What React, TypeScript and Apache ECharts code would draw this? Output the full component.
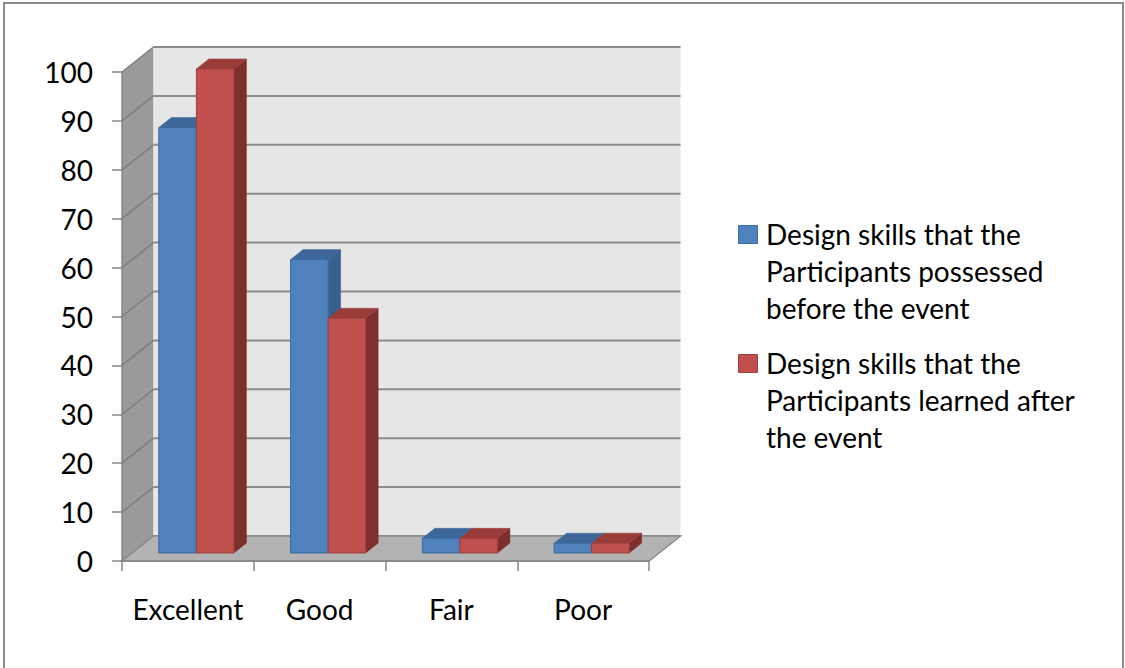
import React, { useEffect, useRef } from "react";
import * as echarts from "echarts";

const categories = ["Excellent", "Good", "Fair", "Poor"];
const beforeValues = [87, 60, 3, 2];
const afterValues = [99, 48, 3, 2];
const seriesNames = [
  "Design skills that the Participants possessed before the event",
  "Design skills that the Participants learned after the event",
];
const legendLines = [
  ["Design skills that the", "Participants possessed", "before the event"],
  ["Design skills that the", "Participants learned after", "the event"],
];
const yTicks = [0, 10, 20, 30, 40, 50, 60, 70, 80, 90, 100];

const FONT = "Lato, 'Noto Sans', sans-serif";
const palettes = [
  { front: "#4f81bd", top: "#3d6699", side: "#38608e", stroke: "#3a6a9f" },
  { front: "#c0504d", top: "#9a3d3a", side: "#7e2f2d", stroke: "#9e3f3c" },
];

// oblique projection offsets
const WALL_DX = 31.5;
const WALL_DY = -25;
const FRONT_DX = 8.5;
const FRONT_DY = -8;
const BAR_DX = 12.5;
const BAR_DY = -10;
const BAR_FRAC = 0.285;

export default function App() {
  const ref = useRef<HTMLDivElement>(null);
  useEffect(() => {
    if (!ref.current) return;
    const chart = echarts.init(ref.current, null, { renderer: "svg" });

    const wallsRender = (params: any, api: any) => {
      const cs = params.coordSys;
      const x = cs.x, y = cs.y, w = cs.width, h = cs.height;
      const children: any[] = [];
      children.push({
        type: "polygon",
        shape: { points: [[x, y], [x + WALL_DX, y + WALL_DY], [x + WALL_DX, y + h + WALL_DY], [x, y + h]] },
        style: { fill: "#9a9a9a" },
      });
      children.push({
        type: "rect",
        shape: { x: x + WALL_DX, y: y + WALL_DY, width: w, height: h },
        style: { fill: "#e6e6e6" },
      });
      yTicks.forEach((v) => {
        const py = api.coord([0, v])[1];
        children.push({
          type: "line",
          shape: { x1: x + WALL_DX, y1: py + WALL_DY, x2: x + w + WALL_DX, y2: py + WALL_DY },
          style: { stroke: "#8c8c8c", lineWidth: 2 },
        });
        children.push({
          type: "line",
          shape: { x1: x, y1: py, x2: x + WALL_DX, y2: py + WALL_DY },
          style: { stroke: "#7f7f7f", lineWidth: 1.5 },
        });
      });
      children.push({
        type: "polygon",
        shape: { points: [[x, y + h], [x + w, y + h], [x + w + WALL_DX, y + h + WALL_DY], [x + WALL_DX, y + h + WALL_DY]] },
        style: { fill: "#b3b3b3", stroke: "#8c8c8c", lineWidth: 1.5 },
      });
      return { type: "group", children };
    };

    const barRender = (sIdx: number) => (params: any, api: any) => {
      const cat = api.value(0);
      const v = api.value(1);
      const base = api.coord([cat, 0]);
      const topP = api.coord([cat, v]);
      const band = api.size([1, 0])[0];
      const bw = band * BAR_FRAC;
      const x0 = base[0] - bw + sIdx * bw + FRONT_DX;
      const x1 = x0 + bw;
      const ty = topP[1] + FRONT_DY;
      const by = base[1] + FRONT_DY;
      const p = palettes[sIdx];
      return {
        type: "group",
        children: [
          {
            type: "polygon",
            shape: { points: [[x1, ty], [x1 + BAR_DX, ty + BAR_DY], [x1 + BAR_DX, by + BAR_DY], [x1, by]] },
            style: { fill: p.side, stroke: p.side, lineWidth: 0.5 },
          },
          {
            type: "polygon",
            shape: { points: [[x0, ty], [x0 + BAR_DX, ty + BAR_DY], [x1 + BAR_DX, ty + BAR_DY], [x1, ty]] },
            style: { fill: p.top, stroke: p.top, lineWidth: 0.5 },
          },
          {
            type: "rect",
            shape: { x: x0, y: ty, width: bw, height: by - ty },
            style: { fill: p.front, stroke: p.stroke, lineWidth: 1 },
          },
        ],
      };
    };

    const legendGraphics: any[] = [];
    const legendTops = [215.5, 344.5];
    legendLines.forEach((lines, i) => {
      legendGraphics.push({
        type: "rect",
        left: 738,
        top: legendTops[i] + 9.5,
        shape: { x: 0, y: 0, width: 19, height: 18 },
        style: { fill: palettes[i].front, stroke: palettes[i].stroke, lineWidth: 1 },
      });
      legendGraphics.push({
        type: "text",
        x: 766,
        y: legendTops[i],
        style: {
          text: lines.join("\n"),
          font: `28px ${FONT}`,
          fill: "#000",
          lineHeight: 37,
          verticalAlign: "top",
        },
      });
    });

    chart.setOption({
      animation: false,
      backgroundColor: "#ffffff",
      grid: { left: 122, top: 72, width: 527, height: 489, containLabel: false },
      xAxis: {
        type: "category",
        data: categories,
        z: 5,
        axisLine: { show: true, lineStyle: { color: "#868686", width: 1.5 } },
        axisTick: { show: true, interval: 0, length: 10, lineStyle: { color: "#868686", width: 1.5 } },
        axisLabel: { interval: 0, margin: 34, fontSize: 28, fontFamily: FONT, color: "#000" },
        splitLine: { show: false },
      },
      yAxis: {
        type: "value",
        min: 0,
        max: 100,
        interval: 10,
        z: 5,
        axisLine: { show: true, lineStyle: { color: "#868686", width: 1.5 } },
        axisTick: { show: true, length: 10, lineStyle: { color: "#868686", width: 1.5 } },
        axisLabel: { margin: 29, fontSize: 28, fontFamily: FONT, color: "#000" },
        splitLine: { show: false },
      },
      graphic: [
        {
          type: "rect",
          shape: { x: 4, y: 3, width: 1119, height: 700 },
          style: { fill: "none", stroke: "#8c8c8c", lineWidth: 2 },
          z: 10,
        },
        ...legendGraphics,
      ],
      series: [
        {
          type: "custom",
          name: "walls",
          z: 1,
          clip: false,
          silent: true,
          renderItem: wallsRender,
          data: [[0, 0]],
        },
        {
          type: "custom",
          name: seriesNames[0],
          z: 3,
          clip: false,
          renderItem: barRender(0),
          data: categories.map((c, i) => [i, beforeValues[i]]),
        },
        {
          type: "custom",
          name: seriesNames[1],
          z: 4,
          clip: false,
          renderItem: barRender(1),
          data: categories.map((c, i) => [i, afterValues[i]]),
        },
      ],
    });
    return () => chart.dispose();
  }, []);

  return (
    <div
      ref={ref}
      style={{ position: "absolute", left: 0, top: 0, width: 1125, height: 668, background: "#fff" }}
    />
  );
}
